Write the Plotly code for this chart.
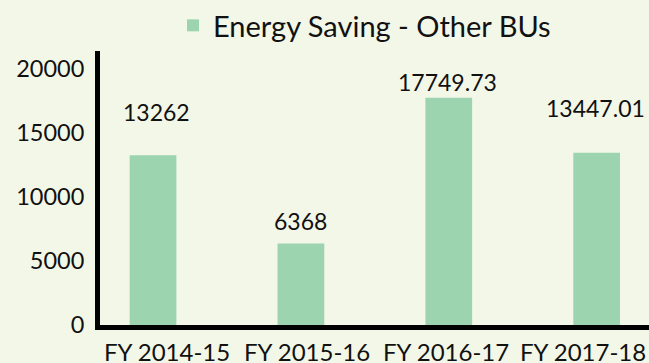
import plotly.graph_objects as go

# Annual energy savings for the other business units
years = ["FY 2014-15", "FY 2015-16", "FY 2016-17", "FY 2017-18"]
savings = [13262, 6368, 17749.73, 13447.01]
value_labels = ["13262", "6368", "17749.73", "13447.01"]
y_ticks = [0, 5000, 10000, 15000, 20000]

BG = "#F3F7E8"
BAR = "#9DD4B0"
FONT = "Lato"

# pixel nudges for each value label (x, y)
label_dx = [3, 0, -1, -1]
label_dy = [43, 22, 16, 45]
# pixel nudges for the category labels under the axis
cat_dx = [13.5, 5.7, -3, -14]

fig = go.Figure()
fig.add_trace(go.Bar(
    x=list(range(len(years))),
    y=savings,
    name="Energy Saving - Other BUs",
    marker=dict(color=BAR, line=dict(width=0)),
    width=0.316,
    showlegend=True,
))

for i, (v, t) in enumerate(zip(savings, value_labels)):
    fig.add_annotation(
        x=i, y=v, text=t, showarrow=False,
        xshift=label_dx[i], yshift=label_dy[i],
        font=dict(family=FONT, size=23, color="#111111"),
    )

for i, name in enumerate(years):
    fig.add_annotation(
        x=i, xref="x", y=0, yref="paper", yanchor="middle",
        text=name, showarrow=False, height=24, valign="middle",
        xshift=cat_dx[i], yshift=-26,
        font=dict(family=FONT, size=24, color="#111111"),
    )

fig.update_layout(
    width=649, height=363,
    margin=dict(l=100, r=0, t=51, b=38),
    paper_bgcolor=BG, plot_bgcolor=BG,
    font=dict(family=FONT, size=23, color="#111111"),
    legend=dict(
        orientation="h", xref="container", x=0.2666, xanchor="left",
        yref="container", y=1.0, yanchor="top",
        font=dict(family=FONT, size=29),
        itemwidth=30,
    ),
    xaxis=dict(
        range=[-0.3586, 3.354],
        showticklabels=False, automargin=False,
        showgrid=False, zeroline=False,
        showline=True, linecolor="black", linewidth=5,
        ticks="",
    ),
    yaxis=dict(
        range=[0, 21400], automargin=False,
        tickmode="array", tickvals=y_ticks, ticktext=[str(v) for v in y_ticks],
        tickfont=dict(size=23.5),
        showgrid=False, zeroline=False,
        showline=True, linecolor="black", linewidth=5,
        ticks="", ticklabelstandoff=6,
    ),
)

fig.write_html("out.html")
